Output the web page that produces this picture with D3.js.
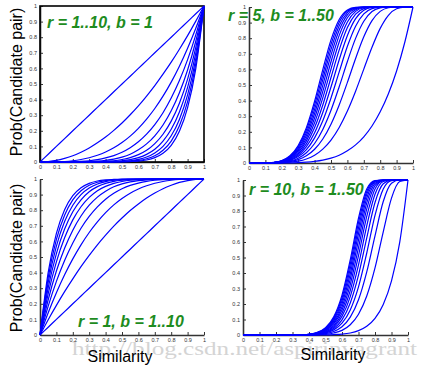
<!DOCTYPE html>
<html>
<head>
<meta charset="utf-8">
<script src="https://cdn.jsdelivr.net/npm/d3@7"></script>
<style>
  body { margin: 0; background: #fff; }
  svg { display: block; }
</style>
</head>
<body>
<script>
// similarity grid shared by every curve
const xs = [0, 0.05, 0.1, 0.15, 0.2, 0.25, 0.3, 0.35, 0.4, 0.45, 0.5, 0.55, 0.6, 0.65, 0.7, 0.75, 0.8, 0.85, 0.9, 0.95, 1];
const tickVals = [0, 0.1, 0.2, 0.3, 0.4, 0.5, 0.6, 0.7, 0.8, 0.9, 1];
const tickLabels = ["0", "0.1", "0.2", "0.3", "0.4", "0.5", "0.6", "0.7", "0.8", "0.9", "1"];

// r = 1..10, b = 1
const curvesA = [
  [0,.05,.1,.15,.2,.25,.3,.35,.4,.45,.5,.55,.6,.65,.7,.75,.8,.85,.9,.95,1],
  [0,.003,.01,.023,.04,.063,.09,.123,.16,.203,.25,.303,.36,.423,.49,.563,.64,.723,.81,.903,1],
  [0,0,.001,.003,.008,.016,.027,.043,.064,.091,.125,.166,.216,.275,.343,.422,.512,.614,.729,.857,1],
  [0,0,0,.001,.002,.004,.008,.015,.026,.041,.063,.092,.13,.179,.24,.316,.41,.522,.656,.815,1],
  [0,0,0,0,0,.001,.002,.005,.01,.018,.031,.05,.078,.116,.168,.237,.328,.444,.59,.774,1],
  [0,0,0,0,0,0,.001,.002,.004,.008,.016,.028,.047,.075,.118,.178,.262,.377,.531,.735,1],
  [0,0,0,0,0,0,0,.001,.002,.004,.008,.015,.028,.049,.082,.134,.21,.321,.478,.698,1],
  [0,0,0,0,0,0,0,0,.001,.002,.004,.008,.017,.032,.058,.1,.168,.273,.43,.663,1],
  [0,0,0,0,0,0,0,0,0,.001,.002,.005,.01,.021,.04,.075,.134,.232,.387,.63,1],
  [0,0,0,0,0,0,0,0,0,0,.001,.003,.006,.013,.028,.056,.107,.197,.349,.599,1]
];

// r = 5, b = 1, 5, 9, ... 49
const curvesB = [
  [0,0,0,0,0,.001,.002,.005,.01,.018,.031,.05,.078,.116,.168,.237,.328,.444,.59,.774,1],
  [0,0,0,0,.002,.005,.012,.026,.05,.089,.147,.228,.333,.46,.602,.742,.863,.947,.989,.999,1],
  [0,0,0,.001,.003,.009,.022,.046,.088,.154,.249,.372,.517,.67,.809,.913,.972,.995,1,1,1],
  [0,0,0,.001,.004,.013,.031,.066,.125,.215,.338,.489,.651,.799,.909,.971,.994,1,1,1,1],
  [0,0,0,.001,.005,.017,.041,.086,.161,.271,.417,.584,.748,.877,.956,.99,.999,1,1,1,1],
  [0,0,0,.002,.007,.02,.05,.105,.194,.324,.487,.662,.817,.925,.979,.997,1,1,1,1,1],
  [0,0,0,.002,.008,.024,.059,.123,.227,.372,.548,.725,.868,.954,.99,.999,1,1,1,1,1],
  [0,0,0,.002,.009,.028,.068,.142,.258,.417,.602,.776,.904,.972,.995,1,1,1,1,1,1],
  [0,0,0,.003,.011,.032,.077,.159,.288,.459,.649,.818,.931,.983,.998,1,1,1,1,1,1],
  [0,0,0,.003,.012,.036,.086,.177,.317,.498,.691,.852,.95,.99,.999,1,1,1,1,1,1],
  [0,0,0,.003,.013,.039,.095,.194,.344,.534,.728,.88,.964,.994,1,1,1,1,1,1,1],
  [0,0,0,.003,.014,.043,.104,.211,.371,.567,.76,.902,.974,.996,1,1,1,1,1,1,1],
  [0,0,0,.004,.016,.047,.112,.227,.396,.599,.789,.92,.981,.998,1,1,1,1,1,1,1]
];

// r = 1, b = 1..10
const curvesC = [
  [0,.05,.1,.15,.2,.25,.3,.35,.4,.45,.5,.55,.6,.65,.7,.75,.8,.85,.9,.95,1],
  [0,.098,.19,.278,.36,.438,.51,.578,.64,.698,.75,.798,.84,.878,.91,.938,.96,.978,.99,.998,1],
  [0,.143,.271,.386,.488,.578,.657,.725,.784,.834,.875,.909,.936,.957,.973,.984,.992,.997,.999,1,1],
  [0,.185,.344,.478,.59,.684,.76,.821,.87,.908,.937,.959,.974,.985,.992,.996,.998,.999,1,1,1],
  [0,.226,.41,.556,.672,.763,.832,.884,.922,.95,.969,.982,.99,.995,.998,.999,1,1,1,1,1],
  [0,.265,.469,.623,.738,.822,.882,.925,.953,.972,.984,.992,.996,.998,.999,1,1,1,1,1,1],
  [0,.302,.522,.679,.79,.866,.918,.951,.972,.985,.992,.996,.998,.999,1,1,1,1,1,1,1],
  [0,.337,.57,.727,.832,.9,.942,.968,.983,.992,.996,.998,.999,1,1,1,1,1,1,1,1],
  [0,.37,.613,.768,.866,.925,.96,.979,.99,.995,.998,.999,1,1,1,1,1,1,1,1,1],
  [0,.401,.651,.803,.893,.944,.972,.987,.994,.997,.999,1,1,1,1,1,1,1,1,1,1]
];

// r = 10, b = 1, 5, 9, ... 49
const curvesD = [
  [0,0,0,0,0,0,0,0,0,0,.001,.003,.006,.013,.028,.056,.107,.197,.349,.599,1],
  [0,0,0,0,0,0,0,0,.001,.002,.005,.013,.03,.066,.134,.252,.433,.666,.883,.99,1],
  [0,0,0,0,0,0,0,0,.001,.003,.009,.023,.053,.115,.227,.407,.64,.861,.979,1,1],
  [0,0,0,0,0,0,0,0,.001,.004,.013,.033,.076,.162,.311,.529,.772,.942,.996,1,1],
  [0,0,0,0,0,0,0,0,.002,.006,.017,.042,.098,.206,.386,.627,.855,.976,.999,1,1],
  [0,0,0,0,0,0,0,0,.002,.007,.02,.052,.12,.248,.452,.704,.908,.99,1,1,1],
  [0,0,0,0,0,0,0,0,.003,.009,.024,.061,.141,.287,.512,.765,.942,.996,1,1,1],
  [0,0,0,0,0,0,0,0,.003,.01,.028,.071,.161,.325,.564,.814,.963,.998,1,1,1],
  [0,0,0,0,0,0,0,0,.004,.011,.032,.08,.181,.361,.612,.852,.977,.999,1,1,1],
  [0,0,0,0,0,0,0,0,.004,.013,.036,.09,.201,.394,.654,.883,.985,1,1,1,1],
  [0,0,0,0,0,0,0,0,.004,.014,.039,.099,.22,.426,.691,.907,.991,1,1,1,1],
  [0,0,0,0,0,0,0,0,.005,.015,.043,.108,.239,.457,.725,.926,.994,1,1,1,1],
  [0,0,0,0,0,0,0,0,.005,.017,.047,.117,.257,.485,.754,.942,.996,1,1,1,1]
];

const titles = ["r = 1..10, b = 1", "r = 5, b = 1..50", "r = 1, b = 1..10", "r = 10, b = 1..50"];

const svg = d3.select("body").append("svg")
  .attr("width", 432)
  .attr("height", 370)
  .style("font-family", "'Liberation Sans', Arial, sans-serif");

function drawPanel(o) {
  const x = d3.scaleLinear().domain([0, 1]).range([o.left, o.right]);
  const y = d3.scaleLinear().domain([0, 1]).range([o.bottom, o.top]);
  const g = svg.append("g");

  const xAxis = d3.axisBottom(x)
    .tickValues(tickVals)
    .tickFormat((d, i) => tickLabels[i])
    .tickSizeInner(-3).tickSizeOuter(0).tickPadding(3);
  const yAxis = d3.axisLeft(y)
    .tickValues(tickVals)
    .tickFormat((d, i) => tickLabels[i])
    .tickSizeInner(-3).tickSizeOuter(0).tickPadding(3);

  const gx = g.append("g").attr("transform", "translate(0," + o.bottom + ")").call(xAxis);
  const gy = g.append("g").attr("transform", "translate(" + o.left + ",0)").call(yAxis);
  [gx, gy].forEach(a => {
    a.select(".domain").attr("stroke", "#333").attr("stroke-width", 1.6);
    a.selectAll(".tick line").attr("stroke", "#333");
    a.selectAll(".tick text").attr("font-size", 5.5).attr("fill", "#333");
  });

  // box around the first plot only
  if (o.box) {
    g.append("rect")
      .attr("x", o.left).attr("y", o.top)
      .attr("width", o.right - o.left).attr("height", o.bottom - o.top)
      .attr("fill", "none").attr("stroke", "#000").attr("stroke-width", 1.6);
  }

  const line = d3.line()
    .x((d, i) => x(xs[i]))
    .y(d => y(d))
    .curve(d3.curveMonotoneX);

  g.selectAll("path.curve")
    .data(o.series)
    .join("path")
    .attr("class", "curve")
    .attr("d", line)
    .attr("fill", "none")
    .attr("stroke", "#0000ff")
    .attr("stroke-width", 1.2);

  g.append("text")
    .attr("x", o.tx).attr("y", o.ty)
    .attr("font-size", 16)
    .attr("font-weight", "bold")
    .attr("font-style", "italic")
    .attr("fill", "#1e8c1e")
    .text(o.title);
}

drawPanel({left: 40, right: 204, top: 6, bottom: 162, series: curvesA, title: titles[0], tx: 47, ty: 28, box: true});
drawPanel({left: 249, right: 413, top: 7, bottom: 163, series: curvesB, title: titles[1], tx: 228, ty: 21});
drawPanel({left: 40, right: 204, top: 179, bottom: 335, series: curvesC, title: titles[2], tx: 78, ty: 327});
drawPanel({left: 243, right: 408, top: 180, bottom: 335, series: curvesD, title: titles[3], tx: 249, ty: 195});

// axis titles
[82, 258].forEach(cy => {
  svg.append("text")
    .attr("transform", "translate(22," + cy + ") rotate(-90)")
    .attr("text-anchor", "middle")
    .attr("font-size", 16)
    .attr("fill", "#000")
    .text("Prob(Candidate pair)");
});

// watermark
svg.append("text")
  .attr("x", 72).attr("y", 355)
  .attr("textLength", 345)
  .attr("lengthAdjust", "spacingAndGlyphs")
  .attr("font-family", "'Liberation Serif', serif")
  .attr("font-size", 19)
  .attr("fill", "#d4d4d4")
  .text("http://blog.csdn.net/aspirinvagrant");

[[120, 362], [333, 360]].forEach(p => {
  svg.append("text")
    .attr("x", p[0]).attr("y", p[1])
    .attr("text-anchor", "middle")
    .attr("font-size", 16)
    .attr("fill", "#000")
    .text("Similarity");
});
</script>
</body>
</html>
